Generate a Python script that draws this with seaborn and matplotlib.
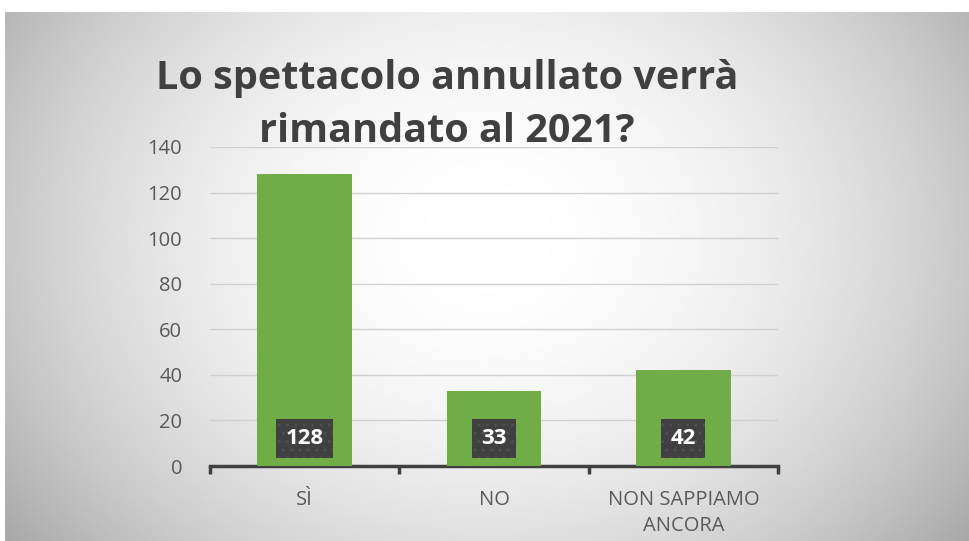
import numpy as np
import matplotlib.pyplot as plt
import seaborn as sns

# chart data
categories = ['SÌ', 'NO', 'NON SAPPIAMO\nANCORA']
answers = [128, 33, 42]
title_lines = ['Lo spettacolo annullato verrà', 'rimandato al 2021?']
yticks = [0, 20, 40, 60, 80, 100, 120, 140]

sns.set_style('white')
plt.rcParams['font.family'] = ['Open Sans', 'DejaVu Sans']

fig = plt.figure(figsize=(9.7, 5.41), dpi=100)

# radial grey gradient behind everything (slide look)
bg = fig.add_axes([5 / 970, 0, 965 / 970, 529 / 541], zorder=-5)
xx, yy = np.meshgrid(np.linspace(-1, 1, 400), np.linspace(-1, 1, 250))
r = np.sqrt((xx / 1.05) ** 2 + ((yy + 0.15) / 1.6) ** 2)
shade = 1.0 - 0.24 * np.clip(r, 0, 1.3) ** 2
bg.imshow(shade, cmap='gray', vmin=0, vmax=1, aspect='auto',
          extent=[0, 1, 0, 1], origin='upper')
bg.axis('off')

ax = fig.add_axes([210 / 970, 75 / 541, 568 / 970, 319 / 541])
ax.patch.set_alpha(0)

sns.barplot(x=categories, y=answers, color='#70AD47', width=0.5,
            saturation=1, ax=ax, zorder=3, linewidth=0)

ax.set_ylim(0, 140)
ax.set_xlim(-0.5, len(categories) - 0.5)
ax.set_yticks(yticks)
ax.yaxis.grid(True, color='#d0d0d0', linewidth=1, zorder=0)
ax.set_axisbelow(True)
for s in ['top', 'right', 'left']:
    ax.spines[s].set_visible(False)
ax.spines['bottom'].set_color('#404040')
ax.spines['bottom'].set_linewidth(2.5)

# tick marks at category boundaries
ax.set_xticks(np.arange(len(categories) + 1) - 0.5, minor=True)
ax.tick_params(axis='x', which='minor', direction='out', length=6,
               width=2.5, color='#404040', bottom=True)
ax.tick_params(axis='x', which='major', length=0, pad=17,
               labelsize=14.5, labelcolor='#595959')
ax.tick_params(axis='y', length=0, pad=20, labelsize=14.5,
               labelcolor='#595959')
for lbl in ax.get_xticklabels():
    lbl.set_linespacing(1.45)
ax.set_xlabel('')
ax.set_ylabel('')

# value labels in dark boxes
for i, v in enumerate(answers):
    ax.text(i, 12, str(v), ha='center', va='center', fontsize=16,
            fontweight='bold', color='white', zorder=5,
            bbox=dict(boxstyle='square,pad=0.42', facecolor='#404040',
                      edgecolor='#4f4f4f', linewidth=0, hatch='..'))

fig.text(447 / 970, 1 - 78 / 541, title_lines[0], ha='center', va='center',
         fontsize=28.5, fontweight='bold', color='#404040')
fig.text(447 / 970, 1 - 132 / 541, title_lines[1], ha='center', va='center',
         fontsize=28.5, fontweight='bold', color='#404040')

fig.savefig('out.png', dpi=100)
